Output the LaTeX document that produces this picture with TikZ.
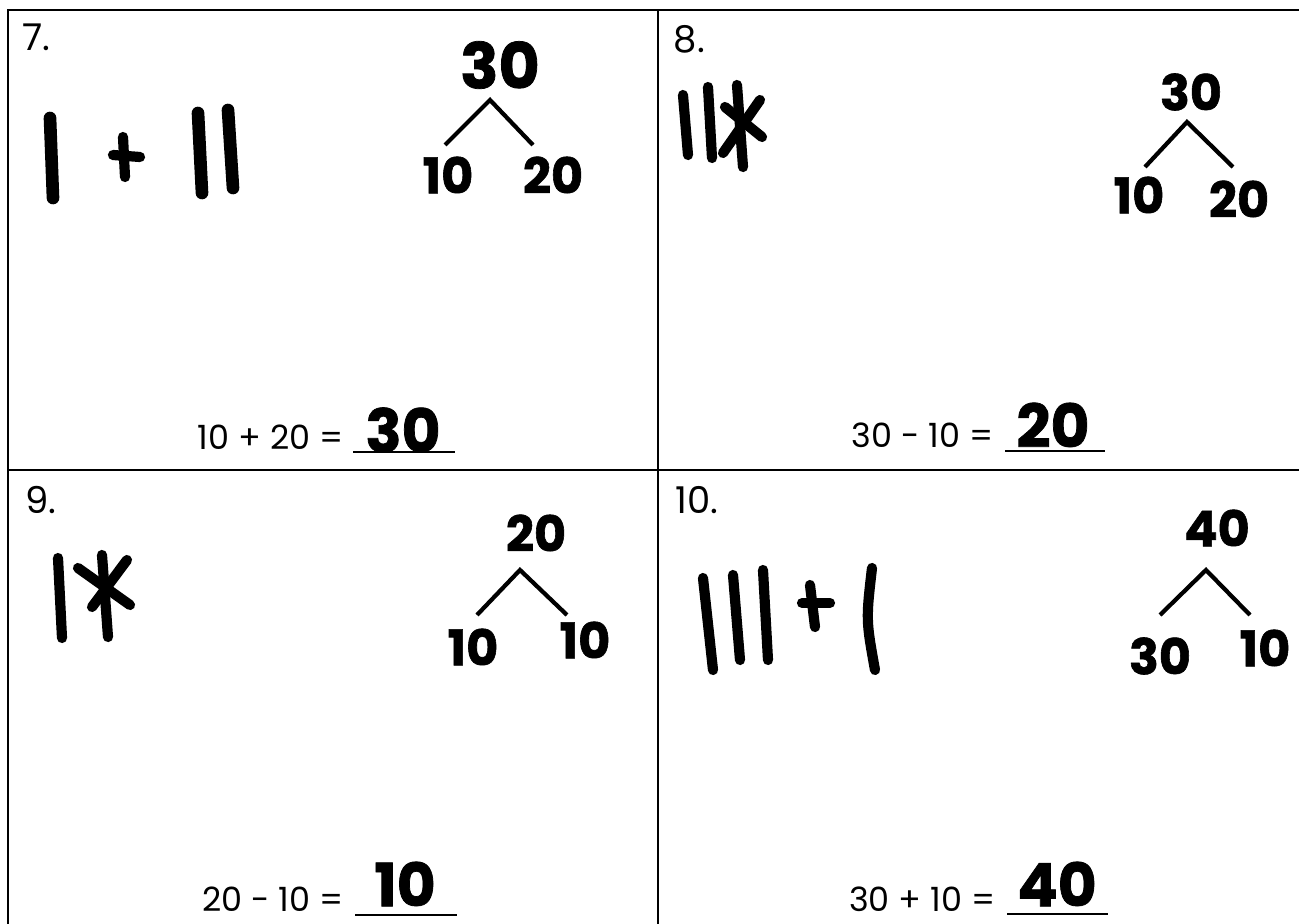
\documentclass[tikz,border=0pt]{standalone}
\usepackage{fontspec}
\setmainfont{Poppins}[BoldFeatures={FakeBold=1.2}]
\usetikzlibrary{calc}
\newcommand{\hand}[1]{\fontsize{#1}{#1}\selectfont\bfseries}

\begin{document}
\begin{tikzpicture}[x=0.01cm,y=-0.01cm,
  grid/.style={line width=0.8pt},
  tally/.style={line width=3.6pt,line cap=round},
  stroke/.style={line width=2.9pt,line cap=round},
  branch/.style={line width=1.2pt},
  uline/.style={line width=0.8pt},
  num/.style={anchor=north west,inner sep=0pt,font=\fontsize{10.5}{12}\selectfont},
  eqn/.style={anchor=east,inner sep=0pt,font=\fontsize{9.5}{11}\selectfont},
  ans/.style={inner sep=0pt,font=\hand{17}},
  big/.style={inner sep=0pt,font=\hand{18}},
  leaf/.style={inner sep=0pt,font=\hand{14}}]
\useasboundingbox (0,0) rectangle (1299,924);
% grid of four boxes
\draw[grid] (8,924)--(8,10)--(1310,10);
\draw[grid] (658,10)--(658,924);
\draw[grid] (8,470)--(1310,470);
\node[num] (n7) at (22,23) {7.};
\node[num] (n8) at (673,25) {8.};
\node[num] (n9) at (25,486) {9.};
\node[num] (n10) at (675,486) {10.};

% box 7
\draw[tally] (50,118)--(53,198);
\draw[stroke] (123,137)--(125,177); \draw[stroke] (113,155)--(140,157);
\draw[tally] (198,113)--(202,193);
\draw[tally] (228,110)--(233,188);
\node[big] (t7) at (500,65) {30};
\node[leaf] (l7) at (448,175) {10};
\node[leaf] (r7) at (553,175) {20};
\coordinate (a7) at (490,100); \coordinate (p7) at (445,145); \coordinate (q7) at (533,145);
\draw[branch] (p7)--(a7)--(q7);
\node[eqn] (e7) at (344,437) {10 + 20 =};
\node[ans] (s7) at (403,430) {30};
\draw[uline] (353,452)--(455,452);

% box 8
\draw[stroke] (683,95)--(688,155);
\draw[stroke] (708,87)--(712,158);
\draw[stroke] (737,85)--(743,167);
\draw[stroke] (725,107)--(762,137);
\draw[stroke] (760,100)--(723,153);
\node[leaf] (t8) at (1191,92) {30};
\node[leaf] (l8) at (1139,195) {10};
\node[leaf] (r8) at (1239,199) {20};
\coordinate (a8) at (1187,122); \coordinate (p8) at (1145,167); \coordinate (q8) at (1233,167);
\draw[branch] (p8)--(a8)--(q8);
\node[eqn] (e8) at (994,435) {30 - 10 =};
\node[ans] (s8) at (1053,425) {20};
\draw[uline] (1005,451)--(1105,451);

% box 9
\draw[stroke] (58,558)--(62,638);
\draw[stroke] (102,555)--(108,637);
\draw[stroke] (78,568)--(130,605);
\draw[stroke] (127,560)--(92,607);
\node[leaf] (t9) at (536,533) {20};
\node[leaf] (l9) at (473,647) {10};
\node[leaf] (r9) at (585,640) {10};
\coordinate (a9) at (520,570); \coordinate (p9) at (477,615); \coordinate (q9) at (567,615);
\draw[branch] (p9)--(a9)--(q9);
\node[eqn] (e9) at (344,899) {20 - 10 =};
\node[ans] (s9) at (405,884) {10};
\draw[uline] (355,915)--(457,915);

% box 10
\draw[stroke] (703,578)--(713,670);
\draw[stroke] (733,575)--(740,660);
\draw[stroke] (763,570)--(768,660);
\draw[stroke] (810,585)--(815,627); \draw[stroke] (802,603)--(830,603);
\draw[stroke] (872,568) .. controls (866,620) .. (875,670);
\node[leaf] (t10) at (1217,528) {40};
\node[leaf] (l10) at (1160,656) {30};
\node[leaf] (r10) at (1265,648) {10};
\coordinate (a10) at (1206,570); \coordinate (p10) at (1160,615); \coordinate (q10) at (1250,615);
\draw[branch] (p10)--(a10)--(q10);
\node[eqn] (e10) at (996,899) {30 + 10 =};
\node[ans] (s10) at (1057,884) {40};
\draw[uline] (1007,914)--(1108,914);
\end{tikzpicture}
\end{document}
